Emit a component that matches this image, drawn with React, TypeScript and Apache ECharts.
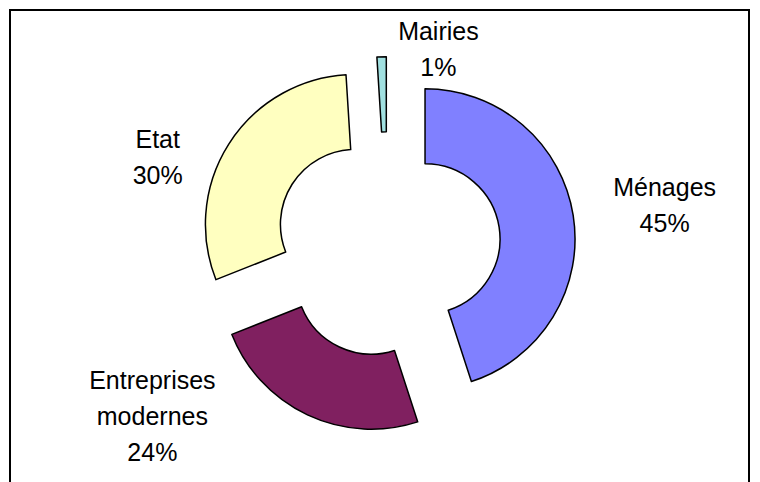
import React, { useEffect, useRef } from "react";
import * as echarts from "echarts";

const categories = ["Ménages", "Entreprises modernes", "Etat", "Mairies"];
const shares = [45, 24, 30, 1];
const sliceColors = ["#8080FF", "#802060", "#FFFFC0", "#A0E0E0"];

// layout (not data): pie centre and label anchors (angle clockwise from top, distance from centre)
const CENTER: [number, number] = [387.5, 244.8];
const labelPlacement = [
  { angle: 81.8, dist: 280 },
  { angle: 233.9, dist: 291 },
  { angle: 290.9, dist: 246 },
  { angle: 14.6, dist: 202 },
];

export default function App() {
  const ref = useRef<HTMLDivElement>(null);
  useEffect(() => {
    if (!ref.current) return;
    const chart = echarts.init(ref.current, undefined, { renderer: "svg" });
    const total = shares.reduce((a, b) => a + b, 0);
    const labelTexts = categories.map(
      (name, i) => name.replace(" ", "\n") + "\n" + Math.round((shares[i] / total) * 100) + "%"
    );
    const labelGraphics = labelTexts.map((text, i) => {
      const lp = labelPlacement[i];
      const a = (lp.angle * Math.PI) / 180;
      return {
        type: "text",
        x: CENTER[0] + lp.dist * Math.sin(a),
        y: CENTER[1] - lp.dist * Math.cos(a),
        silent: true,
        style: {
          text,
          fill: "#000000",
          fontFamily: "Liberation Sans, Arial, sans-serif",
          fontSize: 25,
          lineHeight: 36,
          align: "center",
          verticalAlign: "middle",
          textAlign: "center",
          textVerticalAlign: "middle",
        },
      };
    });
    chart.setOption({
      animation: false,
      backgroundColor: "#FFFFFF",
      graphic: [
        {
          type: "rect",
          shape: { x: 10, y: 10, width: 739, height: 500 },
          style: { fill: "none", stroke: "#000000", lineWidth: 2 },
          silent: true,
        },
        ...labelGraphics,
      ],
      series: [
        {
          type: "pie",
          center: CENTER,
          radius: [75, 150],
          startAngle: 90,
          clockwise: true,
          selectedMode: "multiple",
          selectedOffset: 38,
          avoidLabelOverlap: false,
          emphasis: { disabled: true },
          itemStyle: { borderColor: "#000000", borderWidth: 1.5 },
          select: { itemStyle: { borderColor: "#000000", borderWidth: 1.5 } },
          label: { show: false },
          labelLine: { show: false },
          data: categories.map((name, i) => ({
            name,
            value: shares[i],
            selected: true,
            itemStyle: { color: sliceColors[i] },
            select: { itemStyle: { color: sliceColors[i] } },
          })),
        },
      ],
    });
    return () => chart.dispose();
  }, []);
  return (
    <div
      ref={ref}
      style={{ position: "absolute", left: 0, top: 0, width: 760, height: 482 }}
    />
  );
}
